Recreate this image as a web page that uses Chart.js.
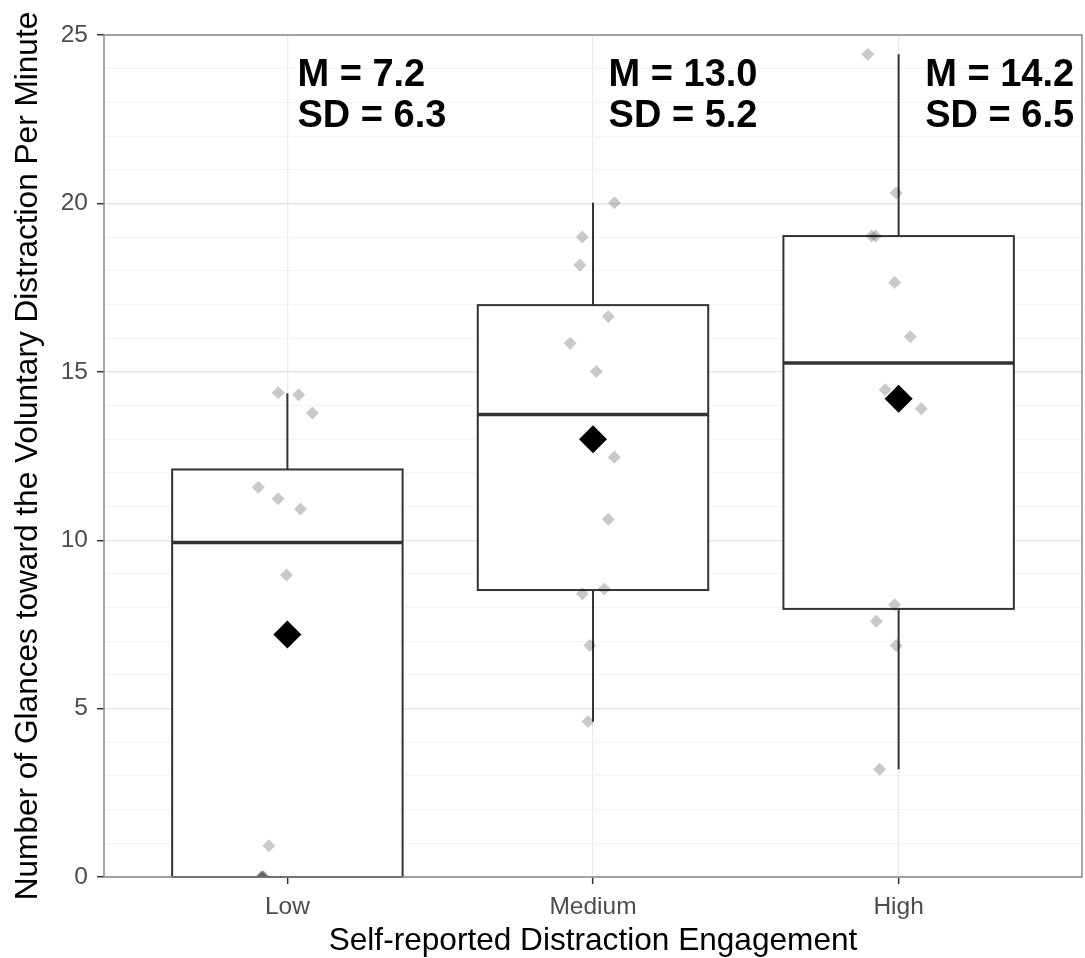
<!DOCTYPE html>
<html>
<head>
<meta charset="utf-8">
<title>Voluntary distraction glances by engagement</title>
<script src="https://cdn.jsdelivr.net/npm/chart.js@4/dist/chart.umd.min.js"></script>
<style>
  html, body { margin: 0; padding: 0; background: #ffffff; }
  #wrap { width: 1085px; height: 958px; }
</style>
</head>
<body>
<div id="wrap"><canvas id="chart" width="1085" height="958"></canvas></div>
<script>
// Groups on the x axis
const categories = ['Low', 'Medium', 'High'];
// Labelled y ticks
const yTickLabels = [0, 5, 10, 15, 20, 25];

// Box summaries per group
const whiskerLow  = [0, 4.62, 3.20];
const boxQ1       = [0, 8.52, 7.96];
const boxMedian   = [9.93, 13.73, 15.26];
const boxQ3       = [12.10, 16.98, 19.03];
const whiskerHigh = [14.36, 20.02, 24.43];

// Group means and standard deviations (diamonds + text)
const groupMean = [7.2, 13.0, 14.2];
const groupSD   = [6.3, 5.2, 6.5];

// Individual participants, with their horizontal jitter (category units)
const lowValues    = [14.38, 14.32, 13.78, 11.57, 11.23, 10.93, 8.97, 0.93, 0, 0, 0, 0];
const lowJitter    = [-0.030, 0.037, 0.082, -0.095, -0.030, 0.043, -0.003, -0.061, -0.083, -0.086, -0.080, -0.078];
const mediumValues = [20.02, 19.00, 18.17, 16.64, 15.85, 15.01, 12.46, 10.62, 8.41, 8.55, 6.87, 4.62];
const mediumJitter = [0.070, -0.035, -0.043, 0.050, -0.075, 0.011, 0.070, 0.050, -0.035, 0.037, -0.010, -0.016];
const highValues   = [24.43, 20.31, 19.03, 19.03, 17.65, 16.04, 14.47, 13.90, 8.08, 7.59, 6.87, 3.20];
const highJitter   = [-0.101, -0.008, -0.088, -0.075, -0.013, 0.038, -0.044, 0.074, -0.013, -0.073, -0.008, -0.062];

const groupValues = [lowValues, mediumValues, highValues];
const groupJitter = [lowJitter, mediumJitter, highJitter];

const jitterPoints = [];
groupValues.forEach((vals, g) => {
  vals.forEach((v, k) => jitterPoints.push({ x: g + 1 + groupJitter[g][k], y: v }));
});
const meanPoints = groupMean.map((m, g) => ({ x: g + 1, y: m }));

const FONT = '"Liberation Sans", Arial, Helvetica, sans-serif';

// Box-and-whisker bodies, drawn under the points
const boxPlugin = {
  id: 'boxes',
  beforeDatasetsDraw(chart, args, opts) {
    const { ctx } = chart;
    const x = chart.scales.x, y = chart.scales.y;
    ctx.save();
    categories.forEach((c, i) => {
      const cx = x.getPixelForValue(i + 1);
      const left = x.getPixelForValue(i + 1 - opts.halfWidth);
      const right = x.getPixelForValue(i + 1 + opts.halfWidth);
      const yLo = y.getPixelForValue(whiskerLow[i]);
      const yQ1 = y.getPixelForValue(boxQ1[i]);
      const yMed = y.getPixelForValue(boxMedian[i]);
      const yQ3 = y.getPixelForValue(boxQ3[i]);
      const yHi = y.getPixelForValue(whiskerHigh[i]);

      ctx.strokeStyle = '#333333';
      ctx.lineWidth = 2;
      ctx.beginPath();
      ctx.moveTo(cx, yHi); ctx.lineTo(cx, yQ3);
      ctx.moveTo(cx, yQ1); ctx.lineTo(cx, yLo);
      ctx.stroke();

      ctx.fillStyle = '#ffffff';
      ctx.fillRect(left, yQ3, right - left, yQ1 - yQ3);
      ctx.strokeRect(left, yQ3, right - left, yQ1 - yQ3);

      ctx.lineWidth = 3.4;
      ctx.beginPath();
      ctx.moveTo(left, yMed); ctx.lineTo(right, yMed);
      ctx.stroke();
    });
    ctx.restore();
  }
};

// Mean / SD text beside each group
const statsTextPlugin = {
  id: 'statsText',
  afterDatasetsDraw(chart, args, opts) {
    const { ctx } = chart;
    const x = chart.scales.x, y = chart.scales.y;
    ctx.save();
    ctx.font = 'bold 38px ' + FONT;
    ctx.fillStyle = '#000000';
    ctx.textAlign = 'left';
    ctx.textBaseline = 'alphabetic';
    categories.forEach((c, i) => {
      const px = x.getPixelForValue(opts.anchorX[i]);
      const py = y.getPixelForValue(opts.anchorY);
      ctx.fillText('M = ' + groupMean[i].toFixed(1), px, py);
      ctx.fillText('SD = ' + groupSD[i].toFixed(1), px, py + opts.lineGap);
    });
    ctx.restore();
  }
};

// Panel outline
const panelBorderPlugin = {
  id: 'panelBorder',
  afterDraw(chart) {
    const { ctx, chartArea: a } = chart;
    ctx.save();
    ctx.strokeStyle = '#8a8a8a';
    ctx.lineWidth = 1.5;
    ctx.strokeRect(a.left, a.top, a.right - a.left, a.bottom - a.top);
    ctx.restore();
  }
};

new Chart(document.getElementById('chart'), {
  type: 'scatter',
  data: {
    datasets: [
      {
        label: 'Mean',
        data: meanPoints,
        pointStyle: 'rectRot',
        pointRadius: 14,
        pointBackgroundColor: '#000000',
        pointBorderWidth: 0,
        order: 0,
        clip: 0
      },
      {
        label: 'Participants',
        data: jitterPoints,
        pointStyle: 'rectRot',
        pointRadius: 6.5,
        pointBackgroundColor: 'rgba(0,0,0,0.21)',
        pointBorderWidth: 0,
        order: 1,
        clip: 0
      }
    ]
  },
  options: {
    responsive: false,
    animation: false,
    events: [],
    layout: { autoPadding: false, padding: { top: 35, right: 3, left: 0, bottom: 0 } },
    plugins: {
      legend: { display: false },
      tooltip: { enabled: false },
      boxes: { halfWidth: 0.377 },
      statsText: { anchorX: [1.033, 2.051, 3.087], anchorY: 23.5, lineGap: 41 }
    },
    scales: {
      x: {
        type: 'linear',
        min: 0.4,
        max: 3.6,
        afterBuildTicks(scale) {
          scale.ticks = categories.map((c, i) => ({ value: i + 1 }));
        },
        afterFit(scale) {
          scale.height = 81;
          scale.paddingLeft = 0;
          scale.paddingRight = 0;
        },
        border: { display: false },
        grid: {
          color: '#ebebeb',
          lineWidth: 1.3,
          tickColor: '#333333',
          tickLength: 7,
          tickWidth: 1.5
        },
        ticks: {
          autoSkip: false,
          maxRotation: 0,
          padding: 9,
          color: '#4d4d4d',
          font: { family: FONT, size: 24.5 },
          callback: (v) => categories[Math.round(v) - 1]
        },
        title: {
          display: true,
          text: 'Self-reported Distraction Engagement',
          color: '#000000',
          font: { family: FONT, size: 31.6 },
          padding: { top: 0, bottom: -2 }
        }
      },
      y: {
        type: 'linear',
        min: 0,
        max: 25,
        afterBuildTicks(scale) {
          const t = [];
          for (let v = 0; v <= 25; v++) t.push({ value: v });
          scale.ticks = t;
        },
        afterFit(scale) {
          scale.width = 104;
          scale.paddingTop = 0;
          scale.paddingBottom = 0;
        },
        border: { display: false },
        grid: {
          color: (c) => (yTickLabels.includes(c.tick && c.tick.value) ? '#e6e6e6' : '#f4f4f4'),
          lineWidth: (c) => (yTickLabels.includes(c.tick && c.tick.value) ? 1.4 : 1),
          tickColor: (c) => (yTickLabels.includes(c.tick && c.tick.value) ? '#333333' : 'rgba(0,0,0,0)'),
          tickLength: 7,
          tickWidth: 1.5
        },
        ticks: {
          autoSkip: false,
          padding: 9,
          color: '#4d4d4d',
          font: { family: FONT, size: 24.5 },
          callback: (v) => (yTickLabels.includes(v) ? String(v) : '')
        },
        title: {
          display: true,
          text: 'Number of Glances toward the Voluntary Distraction Per Minute',
          color: '#000000',
          font: { family: FONT, size: 31.6 },
          padding: { top: 9, bottom: 0 }
        }
      }
    }
  },
  plugins: [boxPlugin, statsTextPlugin, panelBorderPlugin]
});
</script>
</body>
</html>
